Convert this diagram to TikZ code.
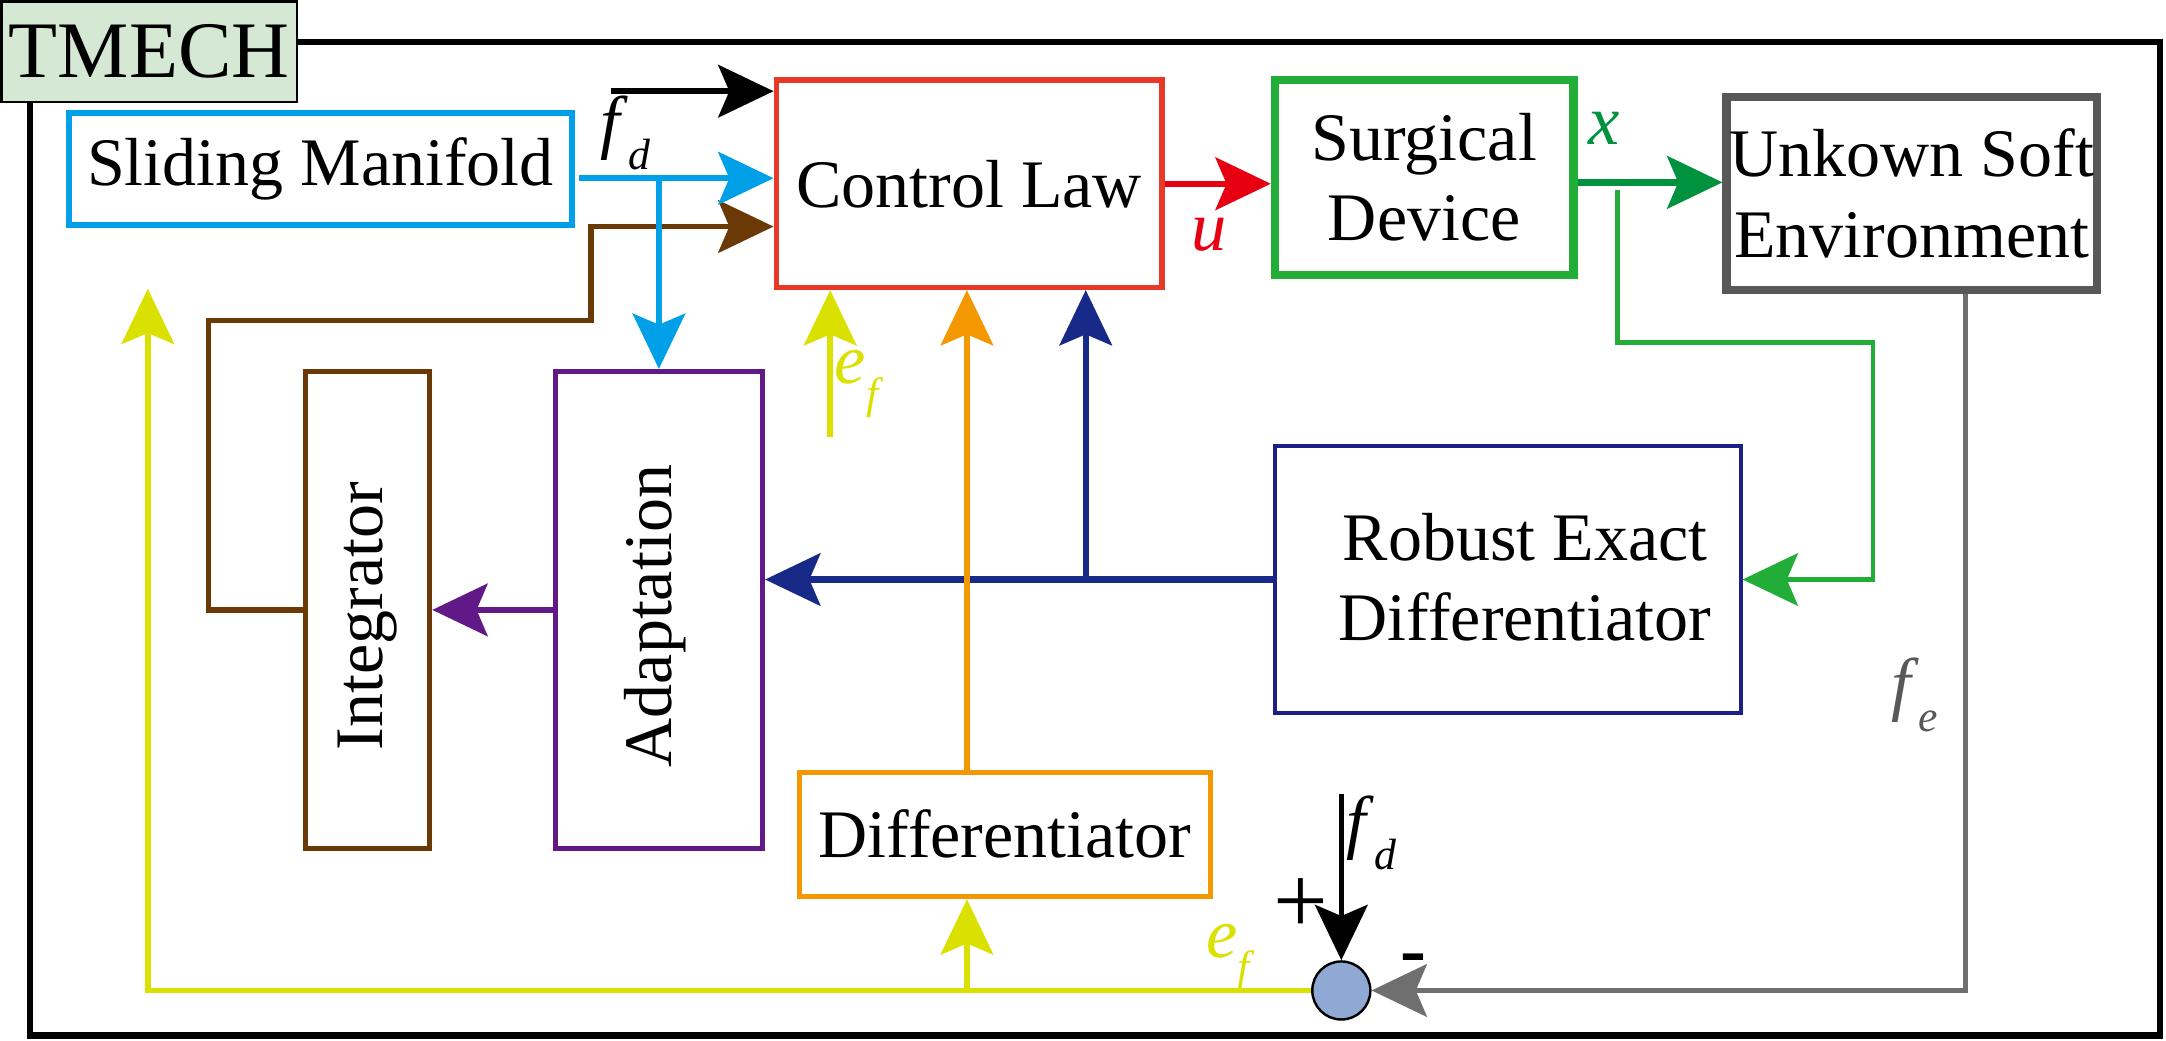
\documentclass[tikz,border=0pt]{standalone}
\usepackage{fontspec}
\setmainfont{Liberation Serif}
\usetikzlibrary{arrows.meta}
\definecolor{cSM}{RGB}{0,160,233}
\definecolor{cCL}{RGB}{232,56,40}
\definecolor{cU}{RGB}{230,0,18}
\definecolor{cSD}{RGB}{34,172,56}
\definecolor{cX}{RGB}{0,146,63}
\definecolor{cUE}{RGB}{89,87,87}
\definecolor{cGray}{RGB}{112,111,111}
\definecolor{cRED}{RGB}{29,32,136}
\definecolor{cNavy}{RGB}{23,42,136}
\definecolor{cDIF}{RGB}{243,152,0}
\definecolor{cADP}{RGB}{96,25,134}
\definecolor{cINT}{RGB}{106,57,6}
\definecolor{cYel}{RGB}{218,224,0}
\definecolor{cSum}{RGB}{143,168,212}
\definecolor{cTM}{RGB}{213,232,212}
\newcommand{\msub}[2]{\textit{#1}\raisebox{-5pt}{\fontsize{9}{9}\selectfont\textit{#2}}}
\begin{document}
\begin{tikzpicture}[x=0.01cm,y=-0.01cm,
  every node/.style={font=\fontsize{14}{16.5}\selectfont},
  blk/.style={draw, rectangle, inner sep=0pt, align=center},
  ar/.style={line width=1.15pt, -{Stealth[length=4.0mm,width=3.8mm,inset=0.8mm]}},
  lbl/.style={inner sep=0pt, font=\fontsize{14.5}{16}\selectfont}]
\useasboundingbox (0,0) rectangle (1568,753);
% outer frame
\draw[line width=1.3pt] (21.7,30.4) rectangle (1563.5,749.5);
\node[blk, fill=cTM, line width=0.5pt, minimum width=2.14cm, minimum height=0.73cm, font=\fontsize{16.5}{18}\selectfont] (TM) at (108,37.5) {TMECH};
% blocks
\node[blk, draw=cSM, line width=1.2pt, minimum width=3.64cm, minimum height=0.81cm] (SM) at (232,122.5) {Sliding Manifold};
\node[blk, draw=cCL, line width=1.1pt, minimum width=2.79cm, minimum height=1.50cm] (CL) at (701.5,133) {Control Law};
\node[blk, draw=cSD, line width=1.7pt, minimum width=2.16cm, minimum height=1.41cm] (SD) at (1031,128.5) {Surgical\\Device};
\node[blk, draw=cUE, line width=1.7pt, minimum width=2.68cm, minimum height=1.40cm] (UE) at (1384,140) {Unkown Soft\\Environment};
\node[blk, draw=cRED, line width=0.8pt, minimum width=3.37cm, minimum height=1.93cm] (RED) at (1091.5,419.5) {};
\node[align=center] (REDt) at (1104,418) {Robust Exact\\Differentiator};
\node[blk, draw=cDIF, line width=1.1pt, minimum width=2.97cm, minimum height=0.90cm] (DIF) at (727.5,604) {Differentiator};
\node[blk, draw=cADP, line width=1.05pt, minimum width=1.50cm, minimum height=3.45cm] (ADP) at (477,441.5) {};
\node[rotate=90] (ADPt) at (474,446) {Adaptation};
\node[blk, draw=cINT, line width=1.1pt, minimum width=0.90cm, minimum height=3.45cm] (INT) at (266,441.5) {};
\node[rotate=90] (INTt) at (266,446) {Integrator};
\node[circle, draw, fill=cSum, line width=0.5pt, minimum size=0.42cm, inner sep=0pt] (SUM) at (971,717) {};
% coordinates
\coordinate (fdt) at (442,66);
\coordinate (smo) at (419,129);
\coordinate (brb) at (477,129);
\coordinate (bk1) at (151,441.5);
\coordinate (bk2) at (151,232);
\coordinate (bk3) at (428,232);
\coordinate (bk4) at (428,164);
\coordinate (nvb) at (786,419.5);
\coordinate (ybr) at (700,717);
\coordinate (yend) at (107,209);
\coordinate (ycor) at (107,717);
\coordinate (efs) at (601,316);
\coordinate (xb) at (1171,132);
\coordinate (g1) at (1171,137.5);
\coordinate (g2) at (1171,248);
\coordinate (g3) at (1356,248);
\coordinate (g4) at (1356,419.5);
\coordinate (gy) at (1423,717);
\coordinate (fdb) at (971,575);
% connectors
\draw[ar] (fdt) -- (fdt -| CL.west);
\draw[ar, cINT] (INT.west) -- (bk1) -- (bk2) -- (bk3) -- (bk4) -- (bk4 -| CL.west);
\draw[ar, cSM] (smo) -- (smo -| CL.west);
\draw[ar, cSM] (brb) -- (ADP.north);
\draw[ar, cADP] (ADP.west) -- (INT.east);
\draw[ar, cNavy, line width=1.25pt] (RED.west) -- (RED.west -| ADP.east);
\draw[ar, cNavy, line width=1.2pt] (nvb) -- (nvb |- CL.south);
\draw[ar, cDIF] (DIF.north -| ybr) -- (CL.south -| ybr);
\draw[ar, cYel] (SUM.west) -- (ycor) -- (yend);
\draw[ar, cYel] (ybr) -- (DIF.south -| ybr);
\draw[ar, cYel] (efs) -- (efs |- CL.south);
\draw[ar, cU, line width=1.3pt] (CL.east) -- (CL.east -| SD.west);
\draw[ar, cX, line width=1.3pt] (SD.east |- xb) -- (UE.west |- xb);
\draw[ar, cSD, line width=0.95pt] (g1) -- (g2) -- (g3) -- (g4) -- (RED.east);
\draw[ar, cGray] (gy |- UE.south) -- (gy) -- (SUM.east);
\draw[ar] (fdb) -- (SUM.north);
% labels
\node[lbl] (lfd1) at (453,96) {\msub{f}{d}};
\node[lbl, text=cYel] (lef1) at (622,278) {\msub{e}{f}};
\node[lbl, text=cU] (lu) at (875,170) {\textit{u}};
\node[lbl, text=cX] (lx) at (1161,93) {\textit{x}};
\node[lbl, text=cUE] (lfe) at (1386,503) {\msub{f}{e}};
\node[lbl, text=cYel] (lef2) at (891,693) {\msub{e}{f}};
\node[lbl] (lfd2) at (993,603) {\msub{f}{d}};
\node[lbl, font=\fontsize{20}{20}\selectfont] (lplus) at (942,656) {+};
\node[lbl, font=\bfseries\fontsize{16}{16}\selectfont] (lminus) at (1023,698) {-};
\end{tikzpicture}
\end{document}
